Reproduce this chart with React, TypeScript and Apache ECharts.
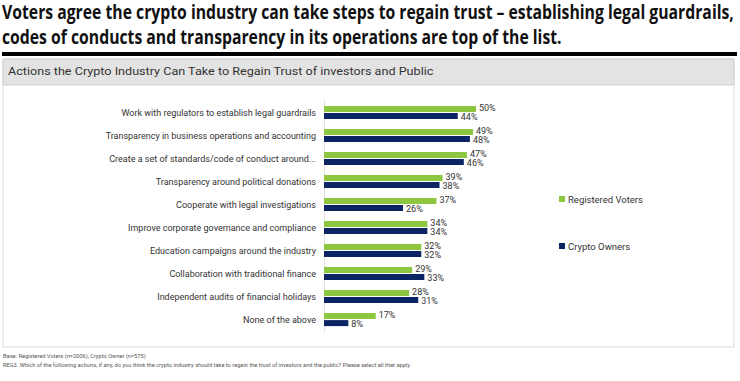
import React, { useEffect, useRef } from "react";
import * as echarts from "echarts";

const categories = [
  "Work with regulators to establish legal guardrails",
  "Transparency in business operations and accounting",
  "Create a set of standards/code of conduct around...",
  "Transparency around political donations",
  "Cooperate with legal investigations",
  "Improve corporate governance and compliance",
  "Education campaigns around the industry",
  "Collaboration with traditional finance",
  "Independent audits of financial holidays",
  "None of the above",
];
const registeredVoters = [50, 49, 47, 39, 37, 34, 32, 29, 28, 17];
const cryptoOwners = [44, 48, 46, 38, 26, 34, 32, 33, 31, 8];
const seriesNames = ["Registered Voters", "Crypto Owners"];

const titleLines = [
  "Voters agree the crypto industry can take steps to regain trust \u2013 establishing legal guardrails,",
  "codes of conducts and transparency in its operations are top of the list.",
];
const headerText = "Actions the Crypto Industry Can Take to Regain Trust of investors and Public";
const footLines = [
  "Base: Registered Voters (n=2006), Crypto Owner (n=575)",
  "REG3. Which of the following actions, if any, do you think the crypto industry should take to regain the trust of investors and the public? Please select all that apply.",
];

const GREEN = "#8dc63f";
const NAVY = "#0c2463";
const FONT = "Roboto, 'Open Sans', sans-serif";
const TITLE_FONT = "'Open Sans', sans-serif";

function measure(text: string, font: string): number {
  const c = document.createElement("canvas");
  const ctx = c.getContext("2d")!;
  ctx.font = font;
  return ctx.measureText(text).width;
}

export default function App() {
  const ref = useRef<HTMLDivElement>(null);
  useEffect(() => {
    document.body.style.margin = "0";
    const chart = echarts.init(ref.current!, null, { renderer: "svg" });
    const titleSize = 19;
    const w = measure(titleLines[0], `bold ${titleSize}px 'Open Sans'`);
    const sx = w > 0 ? 733 / w : 0.85;
    const hw = measure(headerText, `11px Roboto`);
    const hsx = hw > 0 ? 426 / hw : 1;
    const label = {
      show: true,
      position: "right" as const,
      distance: 3,
      formatter: "{c}%",
      fontSize: 9,
      color: "#333",
      fontFamily: FONT,
    };
    chart.setOption({
      animation: false,
      backgroundColor: "#ffffff",
      textStyle: { fontFamily: FONT },
      graphic: [
        { type: "text", x: 2, y: 2, scaleX: sx, style: { text: titleLines[0], fontSize: titleSize, fontWeight: "bold", fill: "#111", fontFamily: TITLE_FONT } },
        { type: "text", x: 2, y: 27, scaleX: sx, style: { text: titleLines[1], fontSize: titleSize, fontWeight: "bold", fill: "#111", fontFamily: TITLE_FONT } },
        { type: "rect", shape: { x: 2, y: 52, width: 735, height: 4 }, style: { fill: "#000" } },
        { type: "rect", shape: { x: 3, y: 59, width: 731, height: 288 }, style: { fill: "#fff", stroke: "#d9d9d9", lineWidth: 1 }, z: -10 },
        { type: "rect", shape: { x: 3, y: 59, width: 731, height: 26 }, style: { fill: "#e3e3e3", stroke: "#d0d0d0", lineWidth: 1 }, z: -9 },
        { type: "text", x: 8, y: 66, scaleX: hsx, style: { text: headerText, fontSize: 11, fill: "#333", fontFamily: FONT } },
        { type: "text", left: 3, top: 353, style: { text: footLines[0], fontSize: 5.7, fill: "#555", fontFamily: FONT } },
        { type: "text", left: 3, top: 362, style: { text: footLines[1], fontSize: 5.7, fill: "#555", fontFamily: FONT } },
      ],
      legend: {
        orient: "vertical",
        left: 554,
        top: 189,
        itemGap: 37,
        itemWidth: 6,
        itemHeight: 6,
        icon: "rect",
        textStyle: { fontSize: 9.5, color: "#333", fontFamily: FONT, padding: [0, 0, 0, -2] },
        data: seriesNames,
      },
      grid: { left: 324, top: 101, width: 304, height: 230 },
      xAxis: {
        type: "value",
        min: 0,
        max: 100,
        show: false,
      },
      yAxis: {
        type: "category",
        data: categories,
        inverse: true,
        axisTick: { show: false },
        axisLine: { show: true, lineStyle: { color: "#e0e0e0", width: 1 } },
        axisLabel: { fontSize: 9, color: "#333", margin: 8, fontFamily: FONT },
      },
      series: [
        {
          name: seriesNames[0],
          type: "bar",
          data: registeredVoters,
          barWidth: 6,
          barGap: "20%",
          itemStyle: { color: GREEN },
          label: { ...label, offset: [0, -1] },
        },
        {
          name: seriesNames[1],
          type: "bar",
          data: cryptoOwners,
          barWidth: 6,
          itemStyle: { color: NAVY },
          label: { ...label, offset: [0, 1] },
        },
      ],
    });
    return () => chart.dispose();
  }, []);
  return <div ref={ref} style={{ width: 740, height: 381 }} />;
}
